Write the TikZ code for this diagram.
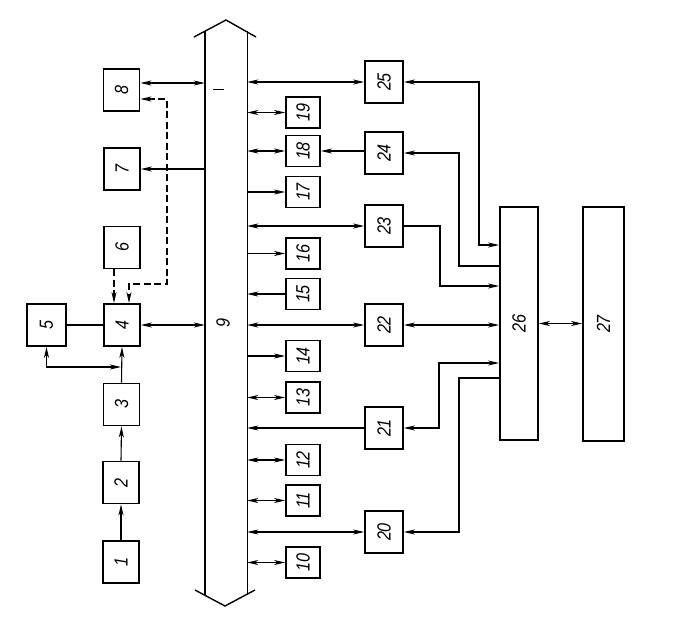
\documentclass[tikz,border=0pt]{standalone}
\usepackage{fontspec}
\newfontfamily\lblfont{Liberation Sans}
\usetikzlibrary{arrows.meta,calc}
\tikzset{
  blk/.style={draw, line width=1.8pt, inner sep=0pt, font=\lblfont\itshape\fontsize{19}{19}\selectfont},
  bigblk/.style={blk, minimum width=36pt, minimum height=42pt},
  smallblk/.style={blk, minimum width=34pt, minimum height=31pt},
  midblk/.style={blk, minimum width=38pt, minimum height=42pt},
  conn/.style={line width=1.1pt, >={Stealth[length=11pt,width=5pt,inset=3pt]}},
  dconn/.style={conn, dash pattern=on 7pt off 3.5pt},
  busline/.style={line width=1.4pt}
}
\newcommand{\rl}[1]{\rotatebox{90}{\scalebox{0.85}[1]{#1}}}
\begin{document}
\begin{tikzpicture}[x=1pt,y=-1pt]
\useasboundingbox (0,0) rectangle (695,627);
% left column
\node[bigblk] (n1) at (121,562) {\rl{1}};
\node[bigblk] (n2) at (121,482.5) {\rl{2}};
\node[bigblk] (n3) at (121.5,404.5) {\rl{3}};
\node[bigblk] (n4) at (122,325) {\rl{4}};
\node[midblk, minimum width=39pt] (n5) at (46.5,325) {\rl{5}};
\node[bigblk] (n6) at (122,247.5) {\rl{6}};
\node[bigblk] (n7) at (122,169) {\rl{7}};
\node[bigblk] (n8) at (121.5,90) {\rl{8}};
% bus
\node[minimum width=42pt, minimum height=564pt, inner sep=0pt] (bus) at (226,313) {};
\draw[busline] (bus.north west) -- (bus.south west);
\draw[busline] (bus.north east) -- (bus.south east);
\draw[busline] (194,37) -- (226,20) -- (256,37);
\draw[busline] (195,590) -- (225,606) -- (255,590);
\node[font=\lblfont\itshape\fontsize{19}{19}\selectfont, inner sep=0pt] (l9) at (223,323) {\rl{9}};
\draw[line width=1pt] (213,89) -- (224,89);
% small boxes
\node[smallblk] (n10) at (303,562.5) {\rl{10}};
\node[smallblk] (n11) at (303,500.5) {\rl{11}};
\node[smallblk] (n12) at (303,460) {\rl{12}};
\node[smallblk] (n13) at (303,397.5) {\rl{13}};
\node[smallblk] (n14) at (303,356) {\rl{14}};
\node[smallblk] (n15) at (303,294) {\rl{15}};
\node[smallblk] (n16) at (303,253.5) {\rl{16}};
\node[smallblk] (n17) at (303,192) {\rl{17}};
\node[smallblk] (n18) at (303,151) {\rl{18}};
\node[smallblk] (n19) at (303,112.5) {\rl{19}};
% medium boxes
\node[midblk] (n20) at (384,532) {\rl{20}};
\node[midblk] (n21) at (384,428) {\rl{21}};
\node[midblk] (n22) at (384,325) {\rl{22}};
\node[midblk] (n23) at (384,226) {\rl{23}};
\node[midblk] (n24) at (384,153) {\rl{24}};
\node[midblk] (n25) at (384,82) {\rl{25}};
\node[blk, minimum width=38pt, minimum height=233pt] (n26) at (519,323.5) {\rl{26}};
\node[blk, minimum width=41pt, minimum height=234pt] (n27) at (603.5,324) {\rl{27}};
% left connectors
\draw[conn,->] (n1.north) -- (n2.south);
\draw[conn,->] (n2.north) -- (n3.south);
\draw[conn,->] (n3.north) -- (n4.south);
\coordinate (j) at (121,367);
\draw[conn,<->] (n5.south) |- (j);
\draw[conn] (n5.east) -- (n4.west);
\draw[conn,<->] (n4.east) -- (n4.east -| bus.west);
\draw[dconn,->] ([xshift=-8pt]n6.south) -- ([xshift=-8pt]n4.north);
\coordinate (d1) at (167,284);
\draw[dconn,<->] ([yshift=-9pt]n8.east) -| (d1) -| ([xshift=7pt]n4.north);
\draw[conn,<->] ([yshift=7pt]n8.east) -- ([yshift=7pt]n8.east -| bus.west);
\draw[conn,->] (n7.east -| bus.west) -- (n7.east);
% right bus connectors
\draw[conn,<->] (n25.west -| bus.east) -- (n25.west);
\draw[conn,<->] (n19.west -| bus.east) -- (n19.west);
\draw[conn,<->] (n18.west -| bus.east) -- (n18.west);
\draw[conn,->] (n24.west |- n18.east) -- (n18.east);
\draw[conn,->] (n17.west -| bus.east) -- (n17.west);
\draw[conn,<->] (n23.west -| bus.east) -- (n23.west);
\draw[conn,->] (n16.west -| bus.east) -- (n16.west);
\draw[conn,->] (n15.west) -- (n15.west -| bus.east);
\draw[conn,<->] (n22.west -| bus.east) -- (n22.west);
\draw[conn,->] (n14.west -| bus.east) -- (n14.west);
\draw[conn,<->] (n13.west -| bus.east) -- (n13.west);
\draw[conn,->] (n21.west) -- (n21.west -| bus.east);
\draw[conn,<->] (n12.west -| bus.east) -- (n12.west);
\draw[conn,<->] (n11.west -| bus.east) -- (n11.west);
\draw[conn,<->] (n20.west -| bus.east) -- (n20.west);
\draw[conn,<->] (n10.west -| bus.east) -- (n10.west);
% block 26 connectors
\coordinate (a25) at (479,245);
\draw[conn,<->] (n25.east) -| (a25) -- (a25 -| n26.west);
\coordinate (a24) at (459,266);
\draw[conn,->] (a24 -| n26.west) -- (a24) |- (n24.east);
\coordinate (a23) at (440,286);
\draw[conn,->] (n23.east) -| (a23) -- (a23 -| n26.west);
\draw[conn,<->] (n22.east) -- (n22.east -| n26.west);
\coordinate (a21) at (439,363);
\draw[conn,<->] (n21.east) -| (a21) -- (a21 -| n26.west);
\coordinate (a20) at (459,378);
\draw[conn,->] (a20 -| n26.west) -- (a20) |- (n20.east);
\draw[conn,<->] (n26.east) -- (n26.east -| n27.west);
\end{tikzpicture}
\end{document}
